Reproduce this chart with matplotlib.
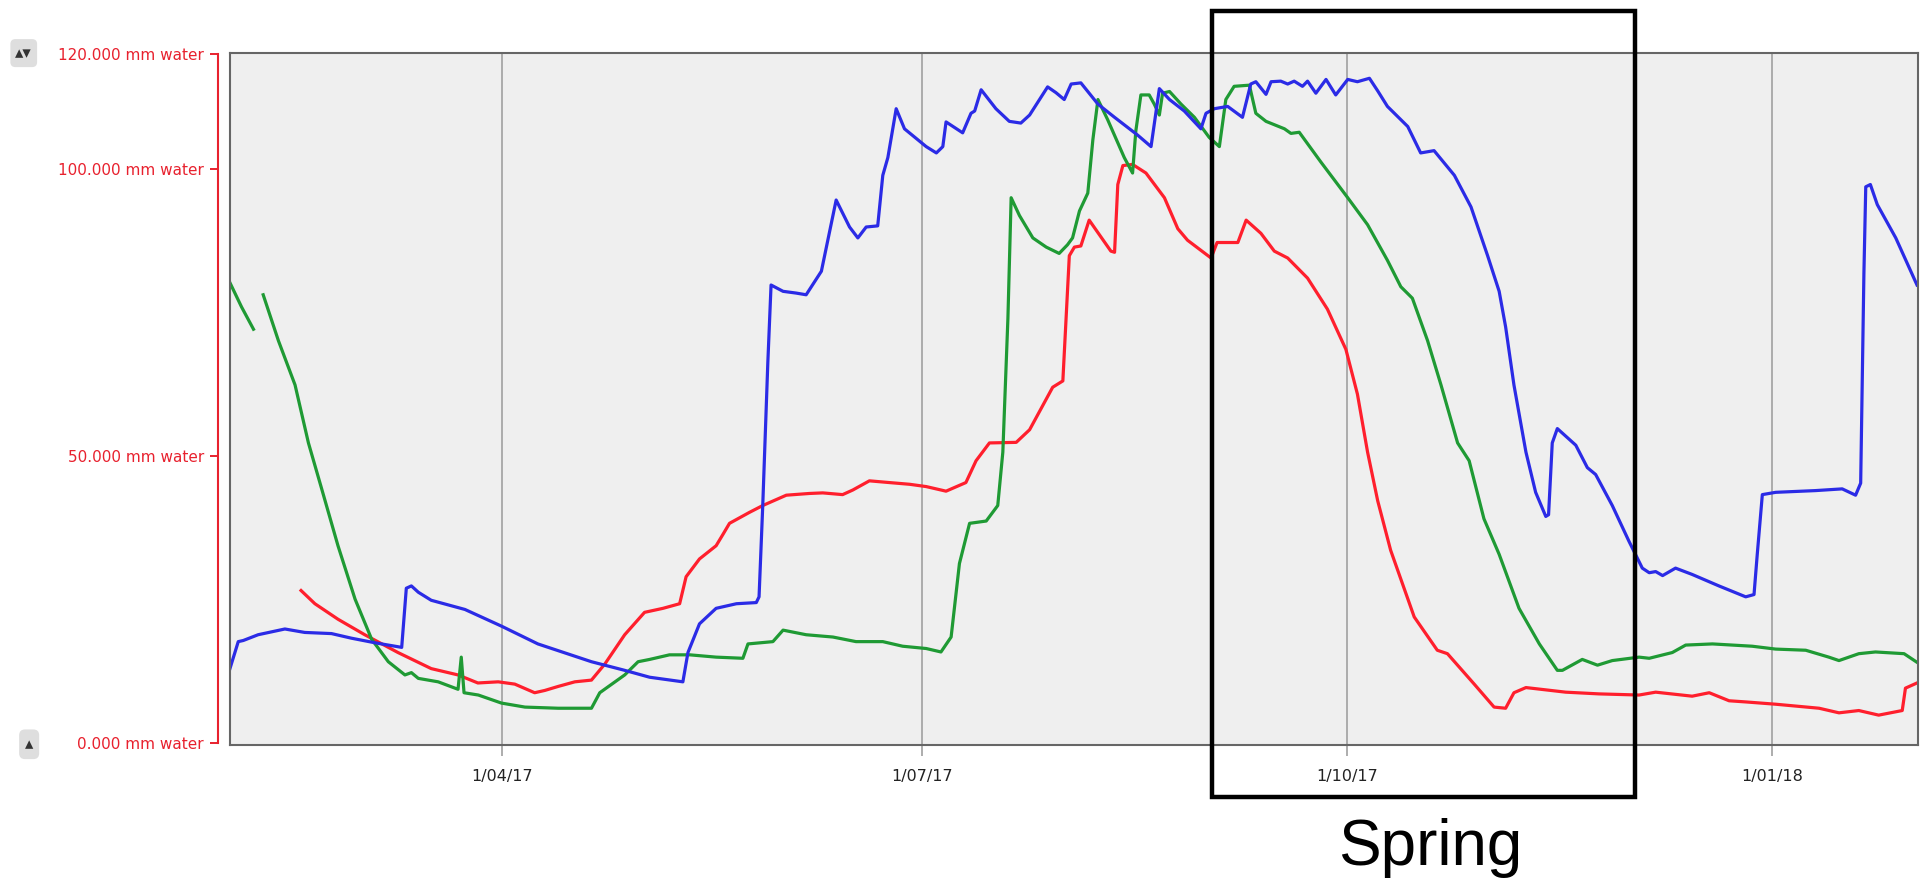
import numpy as np
import matplotlib
matplotlib.use('Agg')
import matplotlib.pyplot as plt
import matplotlib.dates as mdates
from matplotlib.ticker import FuncFormatter
from matplotlib.patches import Rectangle
from matplotlib.transforms import blended_transform_factory

# Données : jours depuis le 1/02/17, hauteur en mm d'eau
start = '2017-02-01'

blue_days = [0, 1.8, 2.9, 6.1, 11.9, 16.2, 22.0, 26.3, 31.4, 37.2, 38.2, 39.3, 40.8, 43.6, 50.9,
             58.8, 66.7, 78.3, 85.5, 90.9, 98.1, 99.2, 101.7, 105.3, 109.7, 114.0, 114.6, 115.4,
             116.5, 117.2, 119.8, 122.6, 124.8, 128.1, 131.3, 134.2, 136.0, 137.8, 140.3, 141.4,
             142.5, 144.3, 146.1, 150.8, 153.0, 154.4, 155.1, 158.7, 160.5, 161.3, 162.7, 165.9,
             168.8, 171.3, 173.2, 177.1, 178.9, 180.7, 182.2, 184.3, 188.0, 191.6, 196.6, 199.5,
             201.3, 203.5, 206.7, 210.3, 211.4, 213.2, 216.1, 219.3, 221.1, 222.2, 224.4, 225.5,
             227.6, 229.1, 230.5, 232.3, 233.4, 235.2, 237.4, 239.5, 242.1, 244.2, 246.8, 248.6,
             250.7, 255.1, 257.9, 260.8, 265.2, 268.8, 272.4, 274.9, 276.3, 278.1, 280.7, 282.8,
             285.0, 285.6, 286.4, 287.5, 291.5, 294.0, 295.8, 299.4, 303.0, 305.9, 307.4, 308.8,
             310.3, 313.1, 316.7, 322.5, 328.3, 330.1, 330.8, 331.9, 334.8, 343.4, 349.2, 352.1,
             353.2, 353.9, 354.3, 355.3, 356.8, 360.8, 365.4]
blue_mm = [13.0, 17.7, 17.9, 18.9, 19.9, 19.3, 19.1, 18.3, 17.5, 16.7, 27.0, 27.4, 26.3, 24.9, 23.3,
           20.4, 17.3, 14.2, 12.7, 11.5, 10.7, 15.8, 20.8, 23.5, 24.3, 24.5, 25.5, 41.4,
           66.3, 79.8, 78.7, 78.4, 78.1, 82.2, 94.6, 89.9, 88.0, 89.9, 90.1, 98.9,
           102.0, 110.5, 107.0, 103.9, 102.8, 103.9, 108.2, 106.3, 109.7, 110.1, 113.8, 110.5,
           108.3, 108.0, 109.4, 114.3, 113.3, 112.1, 114.8, 115.0, 111.3, 109.0, 105.9, 103.9,
           114.0, 112.1, 110.1, 107.0, 109.7, 110.5, 110.9, 109.0, 114.8, 115.2, 113.0, 115.2,
           115.3, 114.8, 115.3, 114.4, 115.3, 113.2, 115.6, 112.9, 115.6, 115.2, 115.8, 113.6,
           110.9, 107.4, 102.8, 103.2, 98.9, 93.4, 84.9, 78.7, 72.5, 62.4, 50.7, 43.7,
           39.5, 39.8, 52.3, 54.8, 51.9, 48.0, 46.8, 41.4, 35.2, 30.5, 29.7, 29.9,
           29.2, 30.5, 29.4, 27.4, 25.5, 25.9, 32.9, 43.3, 43.7, 44.0, 44.3, 43.2,
           45.3, 81.8, 96.9, 97.3, 93.8, 88.0, 79.8]

red_days = [15.4, 18.4, 23.4, 29.2, 36.4, 43.6, 49.4, 53.7, 58.1, 61.7, 66.0, 68.2, 71.1, 74.7,
            78.3, 81.2, 85.5, 89.8, 93.8, 97.4, 98.8, 101.7, 105.3, 106.8, 108.2, 112.5, 115.4,
            120.5, 125.5, 128.4, 132.7, 134.9, 138.5, 142.8, 147.2, 150.8, 155.1, 159.4, 161.6,
            164.5, 170.3, 173.2, 178.2, 180.4, 181.8, 182.9, 184.3, 186.1, 190.8, 191.6, 192.3,
            193.4, 195.5, 198.4, 202.4, 205.3, 207.4, 212.5, 213.8, 218.3, 220.1, 223.3, 226.2,
            229.1, 233.4, 237.7, 241.7, 244.2, 246.4, 248.6, 251.4, 256.5, 261.5, 263.7, 269.5,
            273.8, 276.3, 278.1, 280.7, 289.3, 296.5, 305.2, 308.8, 316.7, 320.4, 324.7, 328.3,
            334.8, 344.2, 348.5, 352.8, 357.1, 362.2, 362.9, 365.4]
red_mm = [26.6, 24.3, 21.6, 18.9, 15.8, 13.0, 11.9, 10.5, 10.7, 10.3, 8.8, 9.2, 9.9, 10.7,
          11.0, 13.8, 18.9, 22.8, 23.5, 24.3, 29.0, 32.1, 34.4, 36.4, 38.3, 40.2, 41.4,
          43.2, 43.5, 43.6, 43.3, 44.1, 45.7, 45.4, 45.1, 44.7, 43.9, 45.4, 49.2,
          52.3, 52.4, 54.6, 62.0, 63.1, 84.9, 86.4, 86.6, 91.1, 85.7, 85.5, 97.3,
          100.6, 100.8, 99.3, 95.0, 89.6, 87.6, 84.5, 87.2, 87.2, 91.1, 88.8, 85.7,
          84.5, 81.0, 75.6, 68.6, 60.8, 50.7, 42.2, 33.6, 22.0, 16.2, 15.6, 10.3,
          6.3, 6.1, 8.8, 9.7, 8.9, 8.6, 8.4, 8.9, 8.2, 8.8, 7.4, 7.2,
          6.8, 6.1, 5.3, 5.7, 4.9, 5.7, 9.6, 10.5]

# trou dans la série verte vers le 7/02
green_days = [0, 2.5, 5.1, 6.1, 7.2, 10.5, 14.1, 17.0, 19.8, 23.4, 27.1, 30.7, 34.3, 37.9, 39.3,
              40.8, 45.1, 49.4, 50.1, 50.7, 53.8, 58.8, 63.9, 71.1, 78.3, 80.1, 85.5, 88.4,
              90.9, 95.2, 99.6, 105.3, 111.1, 112.2, 117.6, 119.8, 124.8, 130.6, 135.6, 141.4,
              145.7, 150.8, 154.0, 156.2, 158.0, 160.2, 163.8, 166.3, 167.4, 168.5, 169.2, 171.0,
              173.9, 176.8, 179.6, 181.4, 182.5, 184.0, 185.8, 186.9, 188.0, 190.1, 193.7, 195.5,
              196.2, 197.3, 199.1, 200.2, 201.3, 202.0, 203.5, 206.0, 208.9, 212.1, 214.3, 215.7,
              217.5, 220.8, 222.2, 224.4, 228.4, 229.8, 231.6, 236.3, 242.1, 246.4, 250.7, 253.6,
              256.1, 259.4, 262.3, 265.9, 268.4, 271.6, 274.9, 279.2, 283.6, 287.5, 288.6, 292.9,
              296.2, 299.4, 305.2, 307.4, 312.4, 315.3, 321.1, 329.7, 334.8, 341.3, 346.3, 348.5,
              352.8, 356.4, 362.6, 365.4]
green_mm = [80.2, 76.0, 72.1, np.nan, 78.1, 70.1, 62.4, 52.3, 44.5, 34.4, 25.1, 18.1, 14.2, 11.9, 12.3,
            11.3, 10.7, 9.4, 15.0, 8.8, 8.4, 7.0, 6.3, 6.1, 6.1, 8.8, 11.9, 14.2,
            14.6, 15.4, 15.4, 15.0, 14.8, 17.3, 17.7, 19.7, 18.9, 18.5, 17.7, 17.7,
            16.9, 16.5, 15.9, 18.5, 31.3, 38.3, 38.7, 41.4, 50.7, 74.0, 95.0, 91.9,
            88.0, 86.4, 85.3, 86.8, 88.0, 92.7, 95.8, 105.1, 112.1, 108.6, 102.0, 99.3,
            106.6, 112.9, 112.9, 111.3, 109.4, 113.2, 113.5, 111.3, 109.0, 105.5, 103.9, 112.1,
            114.4, 114.6, 109.7, 108.3, 107.0, 106.2, 106.4, 101.2, 95.0, 90.3, 84.1, 79.5,
            77.5, 70.1, 62.4, 52.3, 49.2, 39.1, 32.9, 23.5, 17.3, 12.7, 12.7, 14.6,
            13.6, 14.4, 15.0, 14.8, 15.8, 17.1, 17.3, 16.9, 16.4, 16.2, 15.0, 14.4,
            15.6, 15.9, 15.6, 14.1]

y_ticks = [0, 50, 100, 120]
spring_start, spring_end = 212.6, 304.3   # encadré "Spring" (sept. -> déc.)

t0 = mdates.date2num(np.datetime64(start))
red = '#e8212e'

fig = plt.figure(figsize=(19.21, 8.85), dpi=100)
ax = fig.add_axes([0.1197, 0.1582, 0.8787, 0.7819])
ax.set_facecolor('#efefef')

ax.plot(t0 + np.array(red_days), red_mm, color='#ff1f2d', lw=2.3)
ax.plot(t0 + np.array(green_days), green_mm, color='#1f9a34', lw=2.3)
ax.plot(t0 + np.array(blue_days), blue_mm, color='#2b2be6', lw=2.3)

ax.set_xlim(t0, t0 + 365.6)
ax.set_ylim(-0.3, 120.2)

# axe des dates
ax.xaxis.set_major_locator(mdates.MonthLocator(bymonth=[1, 4, 7, 10]))
def fmt_date(x, pos):
    d = mdates.num2date(x)
    return f"{d.day}/{d.month:02d}/{d.year % 100:02d}"
ax.xaxis.set_major_formatter(FuncFormatter(fmt_date))
ax.grid(axis='x', color='#a6a6a6', lw=1.3)
ax.tick_params(axis='x', length=8, width=1.2, color='#a0a0a0', labelcolor='#222222',
               labelsize=11.5, pad=9)

# axe rouge décalé à gauche
ax.set_yticks(y_ticks)
ax.set_yticklabels([f"{v:.3f} mm water" for v in y_ticks])
ax.tick_params(axis='y', length=6, width=1.4, color=red, labelcolor=red, labelsize=11, pad=4)
ax.spines['left'].set_position(('outward', 8.6))
ax.spines['left'].set_color(red)
ax.spines['left'].set_linewidth(1.5)
ax.spines['left'].set_bounds(0, 120)
for s in ['top', 'right', 'bottom']:
    ax.spines[s].set_color('#666666')
    ax.spines[s].set_linewidth(1.5)
ax.plot([0, 0], [0, 1], transform=ax.transAxes, color='#666666', lw=1.5, clip_on=False)

# petits boutons de l'interface
fig.text(0.008, 0.94, '\u25b4\u25be', fontsize=12, color='#333333', va='center',
         bbox=dict(boxstyle='round,pad=0.3', fc='#dedede', ec='none'))
fig.text(0.013, 0.159, '\u25b4', fontsize=12, color='#333333', va='center',
         bbox=dict(boxstyle='round,pad=0.35', fc='#dedede', ec='none'))

# encadré Spring
tr = blended_transform_factory(ax.transData, fig.transFigure)
fig.add_artist(Rectangle((t0 + spring_start, 0.0994), spring_end - spring_start, 0.8881,
                         fill=False, ec='black', lw=3.2, transform=tr, clip_on=False))
fig.text(t0 + (spring_start + spring_end) / 2 + 1.5, 0.042, 'Spring', transform=tr,
         ha='center', va='center', fontsize=46, family='Liberation Sans')

fig.savefig('out.png', dpi=100)
